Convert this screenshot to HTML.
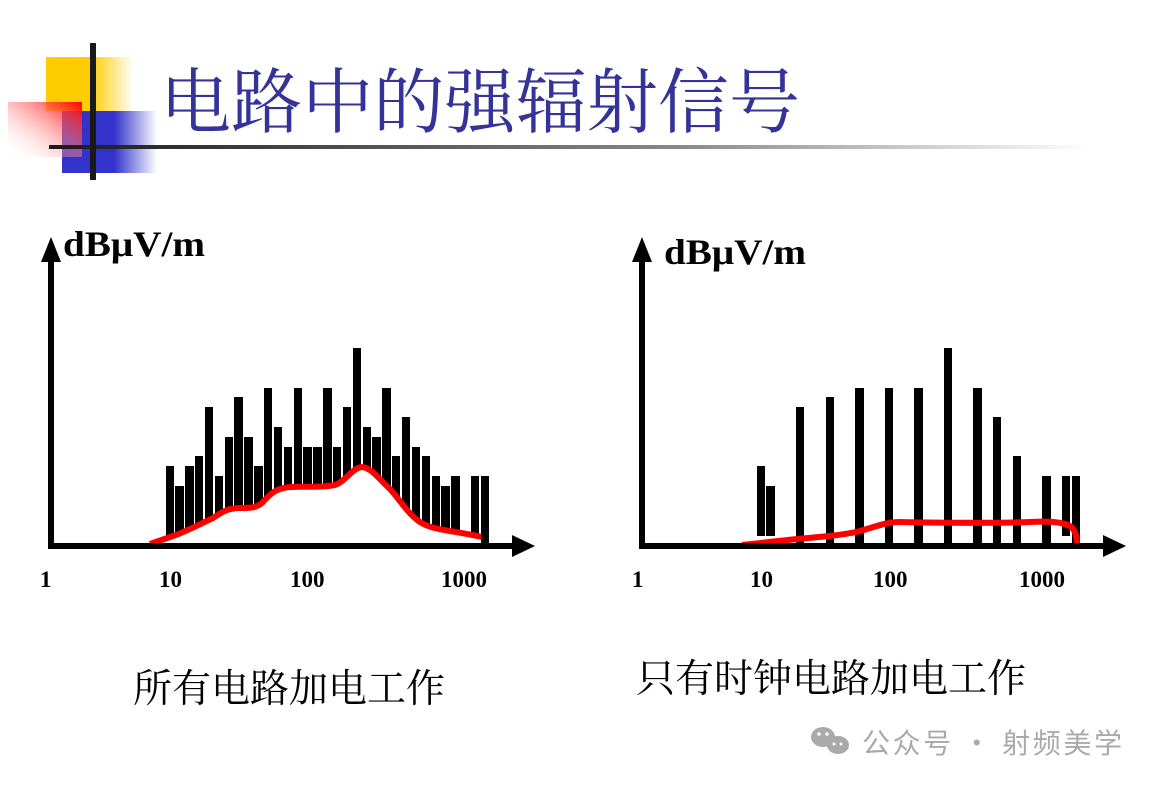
<!DOCTYPE html>
<html><head><meta charset="utf-8"><style>
html,body{margin:0;padding:0;background:#fff;}
body{width:1161px;height:789px;overflow:hidden;position:relative;}
</style></head><body>
<svg width="1161" height="789" viewBox="0 0 1161 789" xmlns="http://www.w3.org/2000/svg" style="position:absolute;left:0;top:0">
<defs>
<linearGradient id="gy" x1="0" x2="1" y1="0" y2="0"><stop offset="0.5" stop-color="#ffcc00"/><stop offset="1" stop-color="#ffcc00" stop-opacity="0"/></linearGradient>
<linearGradient id="gb" x1="0" x2="1" y1="0" y2="0"><stop offset="0.55" stop-color="#3333cc"/><stop offset="1" stop-color="#3333cc" stop-opacity="0"/></linearGradient>
<linearGradient id="gr" x1="1" y1="0" x2="0" y2="1"><stop offset="0" stop-color="#ff0000"/><stop offset="1" stop-color="#ffffff" stop-opacity="0"/></linearGradient>
<linearGradient id="gl" x1="0" x2="1" y1="0" y2="0"><stop offset="0" stop-color="#1a1a1a"/><stop offset="0.6" stop-color="#888"/><stop offset="1" stop-color="#fff"/></linearGradient>
</defs>
<rect x="46" y="57" width="88" height="54" fill="url(#gy)"/>
<rect x="62" y="111" width="95" height="62" fill="url(#gb)"/>
<rect x="8" y="102" width="74" height="55" fill="url(#gr)"/>
<rect x="49" y="145" width="1045" height="4" fill="url(#gl)"/>
<rect x="90" y="43" width="6" height="137" fill="#1a1a1a"/>
<text x="160" y="127" font-family="'Noto Serif CJK SC',serif" font-size="71" textLength="640" lengthAdjust="spacing" fill="#333399">电路中的强辐射信号</text>

<!-- left chart -->
<g fill="#000">
<rect x="166" y="466" width="8" height="80"/><rect x="175" y="486" width="9" height="60"/><rect x="185" y="466" width="9" height="80"/><rect x="195" y="456" width="8" height="90"/><rect x="205" y="407" width="8" height="139"/><rect x="215" y="476" width="8" height="70"/><rect x="225" y="437" width="8" height="109"/><rect x="234" y="397" width="9" height="149"/><rect x="244" y="437" width="9" height="109"/><rect x="254" y="466" width="9" height="80"/><rect x="264" y="388" width="8" height="158"/><rect x="274" y="427" width="8" height="119"/><rect x="284" y="447" width="8" height="99"/><rect x="294" y="388" width="8" height="158"/><rect x="303" y="447" width="9" height="99"/><rect x="313" y="447" width="9" height="99"/><rect x="323" y="388" width="9" height="158"/><rect x="333" y="447" width="8" height="99"/><rect x="343" y="407" width="8" height="139"/><rect x="353" y="348" width="8" height="198"/><rect x="363" y="427" width="8" height="119"/><rect x="372" y="437" width="9" height="109"/><rect x="382" y="388" width="9" height="158"/><rect x="392" y="456" width="8" height="90"/><rect x="402" y="417" width="8" height="129"/><rect x="412" y="447" width="8" height="99"/><rect x="422" y="456" width="8" height="90"/><rect x="432" y="476" width="8" height="70"/><rect x="441" y="486" width="9" height="60"/><rect x="451" y="476" width="9" height="70"/><rect x="471" y="476" width="8" height="70"/>
</g>
<path d="M150,546 L173,536 C185,532 200,524 213,518 C222,512 228,508 240,508 C250,508 256,508 262,503 C270,494 276,488 290,487 C305,486 320,488 335,485 C345,482 352,468 362,467 C372,468 380,480 390,489 C400,500 408,514 420,522 C432,530 450,530 480,538 L480,546 Z" fill="#fff"/>
<path d="M150,544 L173,536 C185,532 200,524 213,518 C222,512 228,508 240,508 C250,508 256,508 262,503 C270,494 276,488 290,487 C305,486 320,488 335,485 C345,482 352,468 362,467 C372,468 380,480 390,489 C400,500 408,514 420,522 C432,530 450,530 482,537" fill="none" stroke="#ff0000" stroke-width="6"/>
<rect x="481" y="476" width="8" height="70" fill="#000"/>
<rect x="48" y="252" width="6" height="296" fill="#000"/>
<path d="M41,262 L51,237 L61,262 Z" fill="#000"/>
<rect x="48" y="543" width="470" height="6" fill="#000"/>
<path d="M512,535 L535,546 L512,557 Z" fill="#000"/>
<text x="63" y="256" font-family="'Liberation Serif',serif" font-weight="bold" font-size="36" textLength="142" lengthAdjust="spacingAndGlyphs" fill="#000">dBμV/m</text>
<g font-family="'Liberation Serif',serif" font-weight="bold" font-size="23" fill="#000">
<text x="40" y="587">1</text><text x="159" y="587">10</text><text x="290" y="587">100</text><text x="441" y="587">1000</text>
<text x="632" y="587">1</text><text x="750" y="587">10</text><text x="873" y="587">100</text><text x="1019" y="587">1000</text>
</g>

<!-- right chart -->
<g fill="#000">
<rect x="757" y="466" width="8" height="70"/><rect x="766" y="486" width="9" height="50"/><rect x="796" y="407" width="8" height="139"/><rect x="826" y="397" width="8" height="149"/><rect x="855" y="388" width="9" height="158"/><rect x="885" y="388" width="8" height="158"/><rect x="914" y="388" width="9" height="158"/><rect x="944" y="348" width="8" height="198"/><rect x="973" y="388" width="9" height="158"/><rect x="993" y="417" width="8" height="129"/><rect x="1013" y="456" width="8" height="90"/><rect x="1042" y="476" width="9" height="70"/><rect x="1062" y="476" width="8" height="60"/><rect x="1072" y="476" width="8" height="70"/>
</g>
<path d="M742,545 L797,539 C820,537 845,535 860,531 C875,527 885,522 900,522 C950,523 1000,523 1030,522 C1050,521 1062,522 1070,526 C1076,530 1077,538 1077,546 L1077,546" fill="none" stroke="#ff0000" stroke-width="6"/>
<rect x="639" y="252" width="6" height="296" fill="#000"/>
<path d="M632,262 L642,237 L652,262 Z" fill="#000"/>
<rect x="639" y="543" width="470" height="6" fill="#000"/>
<path d="M1103,535 L1126,546 L1103,557 Z" fill="#000"/>
<text x="664" y="264" font-family="'Liberation Serif',serif" font-weight="bold" font-size="36" textLength="142" lengthAdjust="spacingAndGlyphs" fill="#000">dBμV/m</text>

<g font-family="'Liberation Serif','Noto Serif CJK SC',serif" font-size="39" fill="#000">
<text x="133" y="702" textLength="312" lengthAdjust="spacing">所有电路加电工作</text>
<text x="636" y="692" textLength="390" lengthAdjust="spacing">只有时钟电路加电工作</text>
</g>
<g fill="#aaa">
<ellipse cx="823" cy="737" rx="12" ry="10"/><ellipse cx="838" cy="745" rx="11" ry="9"/>
</g>
<circle cx="819" cy="734" r="1.8" fill="#fff"/><circle cx="827" cy="734" r="1.8" fill="#fff"/>
<circle cx="834" cy="744" r="1.5" fill="#fff"/><circle cx="841" cy="744" r="1.5" fill="#fff"/>
<text x="862" y="753" font-family="'Noto Sans CJK SC',sans-serif" font-size="28" textLength="260" lengthAdjust="spacing" fill="#aaa">公众号 · 射频美学</text>
</svg>
</body></html>
